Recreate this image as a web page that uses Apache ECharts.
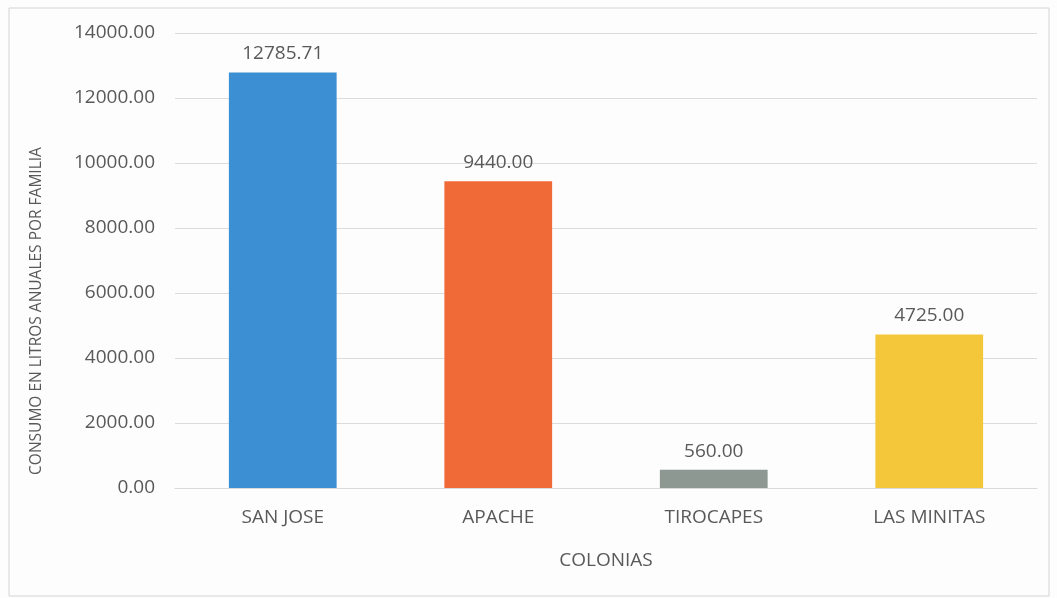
<!DOCTYPE html>
<html>
<head>
<meta charset="utf-8">
<script src="https://cdn.jsdelivr.net/npm/echarts@6/dist/echarts.min.js"></script>
<style>
  html, body { margin: 0; padding: 0; background: #fdfdfd; }
  #chart { width: 1057px; height: 598px; }
</style>
</head>
<body>
<div id="chart"></div>
<script>
// Colonias y consumo anual de agua por familia (litros)
const colonias = ['SAN JOSE', 'APACHE', 'TIROCAPES', 'LAS MINITAS'];
const consumo = [12785.71, 9440.00, 560.00, 4725.00];
const colores = ['#3b8fd2', '#ef6a37', '#8e9893', '#f4c73a'];

const FONT = 'Open Sans';
const TEXT = '#595959';
const SIZE = 19;

const chart = echarts.init(document.getElementById('chart'));
chart.setOption({
  backgroundColor: '#fdfdfd',
  textStyle: { fontFamily: FONT },
  grid: { left: 175, right: 20, top: 33, bottom: 110 },
  graphic: [
    {
      type: 'rect',
      shape: { x: 9, y: 8, width: 1040, height: 588 },
      style: { fill: 'none', stroke: '#d4d4d4', lineWidth: 1 },
      silent: true
    },
    {
      type: 'text',
      x: 37, y: 311,
      rotation: Math.PI / 2,
      style: {
        text: 'CONSUMO EN LITROS ANUALES POR FAMILIA',
        fill: TEXT, font: '15.5px "Open Sans"',
        align: 'center', verticalAlign: 'middle'
      }
    }
  ],
  xAxis: {
    type: 'category',
    data: colonias,
    name: 'COLONIAS',
    nameLocation: 'middle',
    nameGap: 63,
    nameTextStyle: { color: TEXT, fontSize: SIZE, fontFamily: FONT },
    axisLine: { show: true, lineStyle: { color: '#d9d9d9' } },
    axisTick: { show: false },
    axisLabel: { color: TEXT, fontSize: SIZE, fontFamily: FONT, margin: 20 }
  },
  yAxis: {
    type: 'value',
    min: 0, max: 14000, interval: 2000,
    axisLine: { show: false },
    axisTick: { show: false },
    splitLine: { lineStyle: { color: '#dcdcdc' } },
    axisLabel: {
      color: TEXT, fontSize: SIZE, fontFamily: FONT, margin: 20,
      formatter: v => v.toFixed(2)
    }
  },
  series: [{
    type: 'bar',
    data: consumo.map((v, i) => ({ value: v, itemStyle: { color: colores[i] } })),
    barWidth: '50%',
    label: {
      show: true, position: 'top', distance: 9,
      color: TEXT, fontSize: SIZE, fontFamily: FONT,
      formatter: p => p.value.toFixed(2)
    }
  }]
});
</script>
</body>
</html>
